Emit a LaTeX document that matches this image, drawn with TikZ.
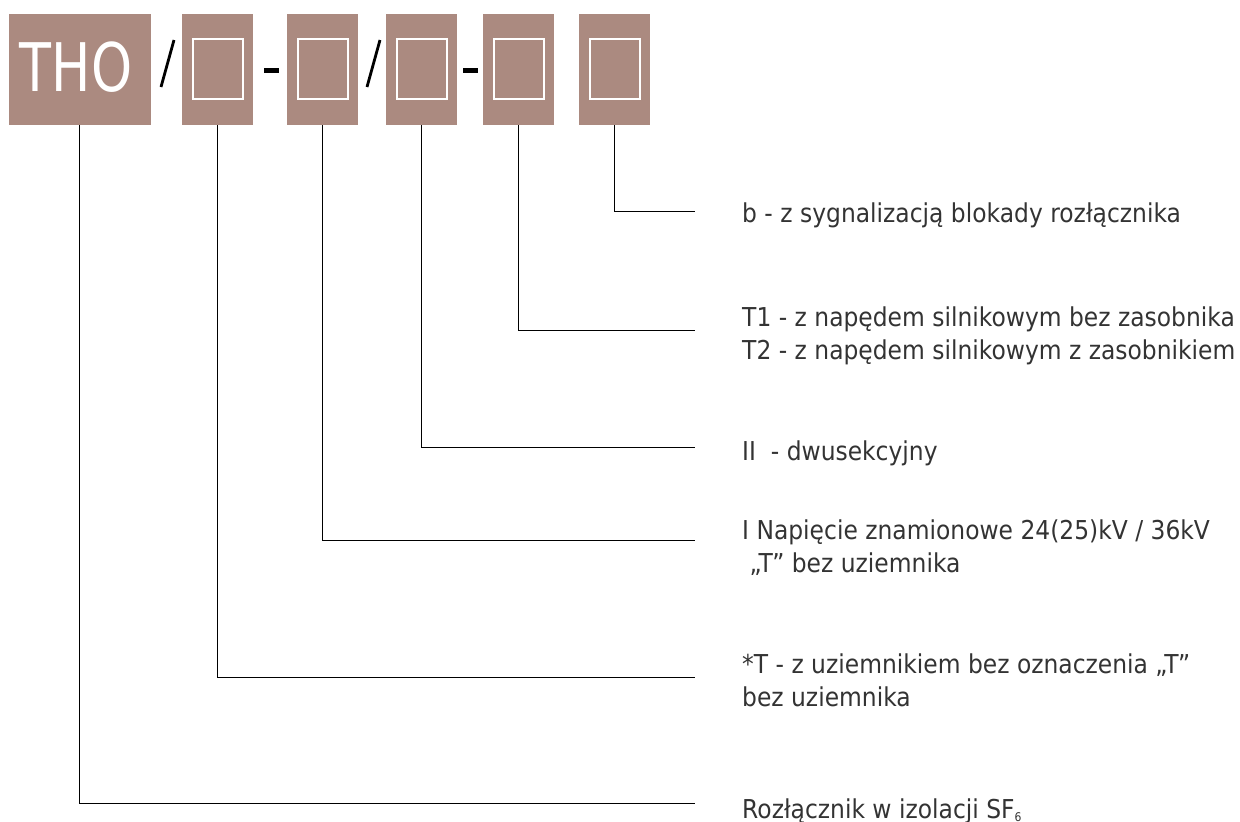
\documentclass[tikz,border=0pt]{standalone}
\usepackage{fontspec}
\setmainfont{DejaVu Sans}[FakeStretch=0.9]
\newfontfamily\thofont{DejaVu Sans}
\definecolor{boxfill}{HTML}{AB8A80}
\definecolor{txt}{HTML}{333333}
\begin{document}
\begin{tikzpicture}[x=1pt,y=-1pt,
  codebox/.style={fill=boxfill,draw=none,minimum height=111pt,inner sep=0pt,anchor=north west},
  slot/.style={draw=white,line width=2pt},
  conn/.style={draw=black,line width=0.9pt},
  lbl/.style={anchor=base west,inner sep=0pt,text=txt,align=left,font=\fontsize{26}{33}\selectfont}]
\useasboundingbox (0,0) rectangle (1240,822);
% boxes
\node[codebox,minimum width=142pt] (b1) at (9,14) {};
\node[text=white,font=\thofont\fontsize{67}{67}\selectfont,inner sep=0pt,anchor=base] (tho) at (76,91) {\scalebox{0.78}[1]{THO}};
\node[codebox,minimum width=71pt] (b2) at (182,14) {};
\node[codebox,minimum width=71pt] (b3) at (287,14) {};
\node[codebox,minimum width=71pt] (b4) at (386,14) {};
\node[codebox,minimum width=71pt] (b5) at (483,14) {};
\node[codebox,minimum width=71pt] (b6) at (579,14) {};
\foreach \b in {b2,b3,b4,b5,b6}{
  \draw[slot] ([xshift=-25pt,yshift=-25pt]\b.north) rectangle ([xshift=25pt,yshift=-85pt]\b.north);
}
% separators
\draw[line width=2.8pt] (161,87) -- (174,40);
\draw[line width=2.8pt] (367,87) -- (380,40);
\fill (264,68) rectangle (279,73);
\fill (463,68) rectangle (478,73);
% connector ends
\coordinate (e1) at (695,803);
\coordinate (e2) at (695,677);
\coordinate (e3) at (695,540);
\coordinate (e4) at (695,447);
\coordinate (e5) at (695,330);
\coordinate (e6) at (695,211);
\draw[conn] ([xshift=-1pt]b1.south) |- (e1);
\draw[conn] (b2.south) |- (e2);
\draw[conn] (b3.south) |- (e3);
\draw[conn] (b4.south) |- (e4);
\draw[conn] (b5.south) |- (e5);
\draw[conn] (b6.south) |- (e6);
% labels
\node[lbl] (t6) at (742,222) {b - z sygnalizacją blokady rozłącznika};
\node[lbl] (t5) at (742,359) {T1 - z napędem silnikowym bez zasobnika\\T2 - z napędem silnikowym z zasobnikiem};
\node[lbl] (t4) at (742,460) {II\ \ - dwusekcyjny};
\node[lbl] (t3) at (742,572) {I Napięcie znamionowe 24(25)kV / 36kV\\\ „T” bez uziemnika};
\node[lbl] (t2) at (742,706) {*T - z uziemnikiem bez oznaczenia „T”\\bez uziemnika};
\node[lbl] (t1) at (742,818) {Rozłącznik w izolacji SF\raisebox{-3pt}{\fontsize{12}{12}\selectfont 6}};
\end{tikzpicture}
\end{document}
